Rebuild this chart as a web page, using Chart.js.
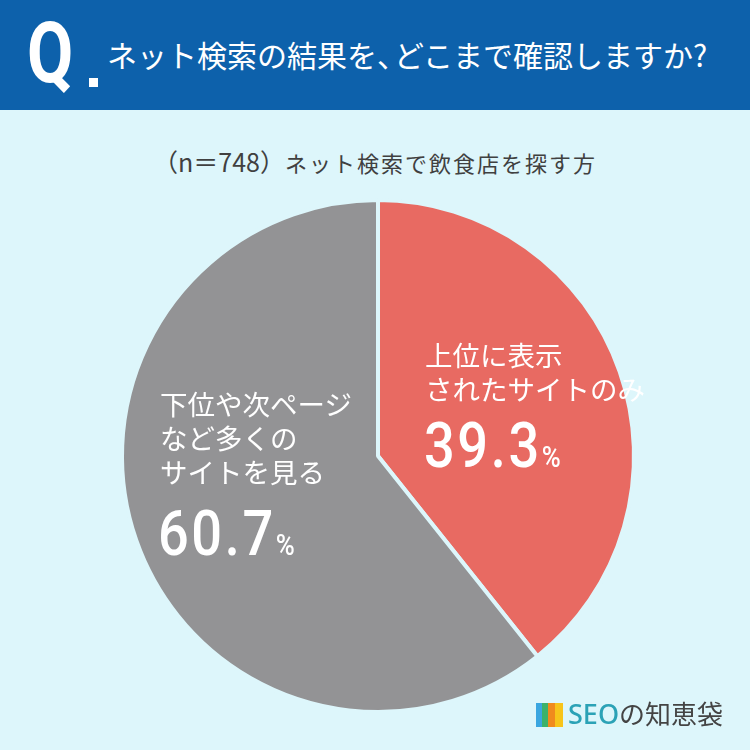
<!DOCTYPE html>
<html lang="ja">
<head>
<meta charset="utf-8">
<script src="https://cdn.jsdelivr.net/npm/chart.js@4"></script>
<style>
  html, body { margin: 0; padding: 0; }
  body { width: 750px; height: 750px; background: #ddf6fb; font-family: "Noto Sans CJK JP", "Noto Sans", sans-serif; overflow: hidden; }
  #wrap { position: relative; width: 750px; height: 750px; }
  #head { position: absolute; left: 0; top: 0; width: 750px; height: 110px; background: #0d61ab; color: #fff; }
  #q { position: absolute; left: 27px; top: 2px; font: bold 86px Roboto, sans-serif; transform: scaleX(0.78); transform-origin: left top; }
  #qdot { position: absolute; left: 89px; top: 78px; width: 9px; height: 9px; background: #fff; }
  #title { position: absolute; left: 107px; top: 32px; font-size: 30px; white-space: nowrap; }
  #title .c { margin-right: -13px; }
  #sub { position: absolute; left: 0; width: 750px; top: 143px; text-align: center; font-size: 22px; letter-spacing: 2px; color: #404040; white-space: nowrap; }
  #sub .n { font-size: 25px; letter-spacing: 0; }
  canvas { position: absolute; left: 0; top: 0; }
  .lab { position: absolute; color: #fff; white-space: nowrap; }
  .txt { font-size: 27.5px; line-height: 34px; }
  .num { font: 500 63px Roboto, sans-serif; transform: scaleX(0.86); transform-origin: left top; letter-spacing: 3px; }
  .num small { font-size: 30px; letter-spacing: 0; }
  #logo { position: absolute; left: 536px; top: 694px; white-space: nowrap; }
  #logo .bars { display: inline-block; position: relative; width: 28px; height: 24px; vertical-align: -3px; margin-right: 4px; }
  #logo .bars i { position: absolute; top: 0; width: 8px; height: 24px; }
  #logo .seo { color: #2ba2b6; font: 500 27px "Noto Sans", sans-serif; }
  #logo .jp { color: #444; font-size: 26px; }
</style>
</head>
<body>
<div id="wrap">
  <div id="head">
    <div id="q">Q</div><div id="qdot"></div>
    <div id="title">ネット検索の結果を<span class="c">、</span>どこまで確認しますか?</div>
  </div>
  <div id="sub"><span class="n">（n＝748）</span>ネット検索で飲食店を探す方</div>
  <canvas id="pie" width="750" height="750"></canvas>
  <div class="lab txt" style="left:425px; top:337px;">上位に表示<br>されたサイトのみ</div>
  <div class="lab num" style="left:424px; top:409px;"></div>
  <div class="lab txt" style="left:160px; top:386px;">下位や次ページ<br>など多くの<br>サイトを見る</div>
  <div class="lab num" style="left:158px; top:497px;"></div>
  <div id="logo"><span class="bars"><i style="left:0;background:#3aa6e0"></i><i style="left:6px;background:#3bb26a"></i><i style="left:12px;background:#f08a1d"></i><i style="left:19px;background:#f7c41a"></i></span><span class="seo">SEO</span><span class="jp">の知恵袋</span></div>
</div>
<script>
// 回答データ
const categories = ['上位に表示されたサイトのみ', '下位や次ページなど多くのサイトを見る'];
const percents = [39.3, 60.7];
const sliceColors = ['#e86a62', '#939395'];

// パーセント表示 (数字 + 小さい%)
const numEls = document.querySelectorAll('.num');
percents.forEach((v, i) => {
    numEls[i].innerHTML = v.toFixed(1) + '<small>%</small>';
});

new Chart(document.getElementById('pie'), {
    type: 'pie',
    data: {
        labels: categories,
        datasets: [{
            data: percents,
            backgroundColor: sliceColors,
            borderColor: '#ddf6fb',
            borderWidth: 4
        }]
    },
    options: {
        responsive: false,
        animation: false,
        layout: { padding: { left: 120, right: 114, top: 198, bottom: 36 } },
        plugins: {
            legend: { display: false },
            tooltip: { enabled: false }
        }
    }
});
</script>
</body>
</html>
